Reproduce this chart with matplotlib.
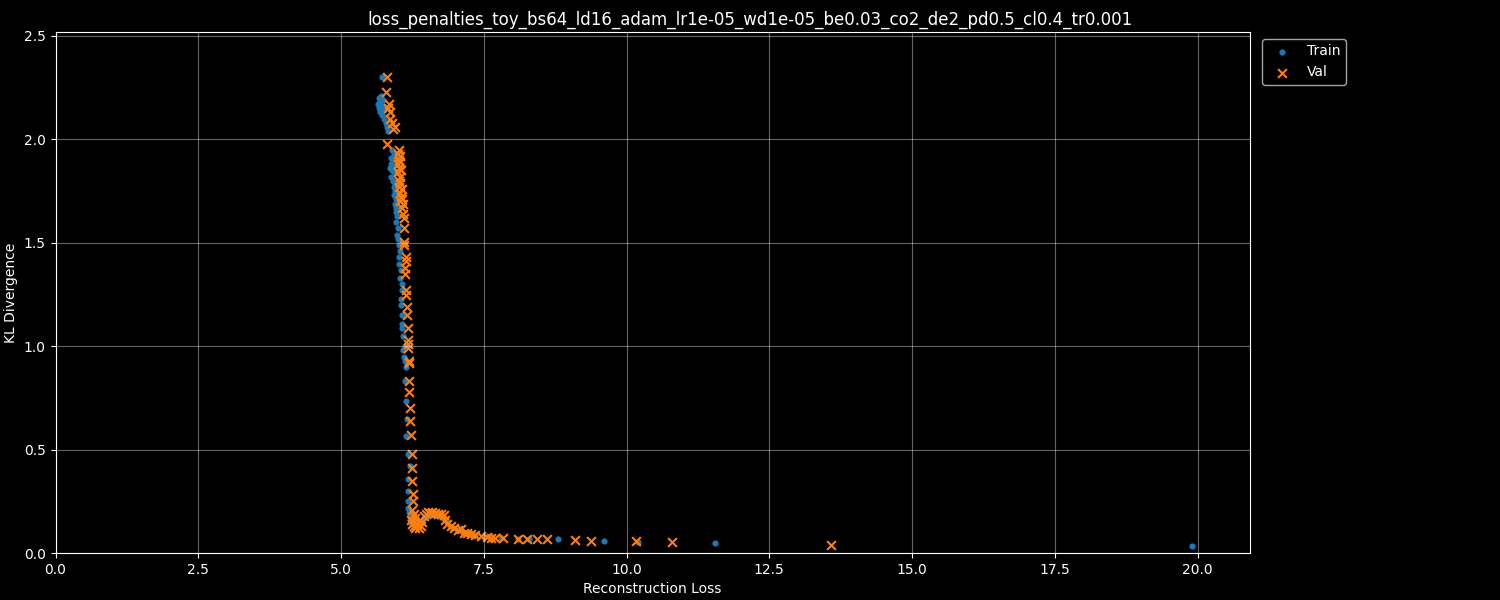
import matplotlib
matplotlib.use("Agg")
import matplotlib.pyplot as plt

plt.style.use("dark_background")

title = "loss_penalties_toy_bs64_ld16_adam_lr1e-05_wd1e-05_be0.03_co2_de2_pd0.5_cl0.4_tr0.001"

train_x = [5.71, 5.66, 5.68, 5.65, 5.70, 5.73, 5.67, 5.69, 5.72, 5.75, 5.78, 5.80, 5.83, 5.76, 5.74,
           5.90, 5.92, 5.88, 5.91, 5.87, 5.90, 5.86, 5.89, 5.93, 5.88, 5.91, 5.94, 5.92, 5.95, 5.93,
           5.96, 5.94, 5.97, 5.96, 5.98, 5.97, 5.99, 5.98, 6.00, 6.01, 6.03, 6.01, 6.01, 6.05, 6.04,
           6.06, 6.06, 6.05, 6.05, 6.06, 6.07, 6.07, 6.08, 6.08, 6.12, 6.11, 6.12, 6.13, 6.12, 6.14,
           6.16, 6.14, 6.17, 6.20, 6.18, 6.18, 6.18, 6.18, 6.19, 6.20, 6.21, 6.22,
           6.25, 6.30, 6.35, 6.40, 6.45, 6.50, 6.55, 6.60, 6.65, 6.70, 6.78, 6.85, 6.90, 6.95, 7.05,
           7.15, 7.25, 7.35, 7.50, 7.65, 7.80, 8.10, 8.30, 8.80, 9.60, 10.2, 11.55, 19.91]
train_y = [2.30, 2.20, 2.18, 2.17, 2.21, 2.19, 2.15, 2.13, 2.12, 2.10, 2.08, 2.06, 2.04, 2.14, 2.16,
           1.95, 1.93, 1.91, 1.90, 1.88, 1.87, 1.86, 1.85, 1.84, 1.82, 1.80, 1.79, 1.77, 1.75, 1.73,
           1.71, 1.69, 1.67, 1.65, 1.63, 1.60, 1.57, 1.54, 1.52, 1.49, 1.46, 1.43, 1.40, 1.37, 1.33,
           1.30, 1.27, 1.23, 1.20, 1.15, 1.11, 1.09, 1.05, 0.98, 1.00, 0.95, 0.93, 0.90, 0.83, 0.735,
           0.65, 0.565, 0.48, 0.42, 0.36, 0.30, 0.25, 0.22, 0.20, 0.18, 0.16, 0.15,
           0.14, 0.13, 0.13, 0.15, 0.17, 0.18, 0.19, 0.19, 0.19, 0.18, 0.17, 0.15, 0.13, 0.12, 0.11,
           0.10, 0.095, 0.09, 0.08, 0.075, 0.072, 0.07, 0.068, 0.068, 0.058, 0.055, 0.048, 0.037]

val_x = [5.80, 5.78, 5.84, 5.82, 5.86, 5.85, 5.89, 5.94, 5.91, 5.80,
         6.02, 6.00, 6.04, 6.01, 6.03, 5.99, 6.02, 6.05, 6.00, 6.03, 6.01, 6.04, 6.02, 6.06, 6.03,
         6.05, 6.07, 6.04, 6.08, 6.06, 6.08, 6.10,
         6.10, 6.11, 6.10, 6.13, 6.13, 6.12, 6.12, 6.14, 6.14, 6.15, 6.15, 6.17, 6.17, 6.18, 6.17,
         6.19, 6.19, 6.19, 6.19, 6.21, 6.21, 6.22, 6.24, 6.24, 6.24, 6.26, 6.26, 6.25, 6.27,
         6.22, 6.25, 6.28, 6.30, 6.33, 6.36, 6.40, 6.38, 6.30, 6.42, 6.45, 6.48, 6.52, 6.56, 6.60,
         6.65, 6.70, 6.75, 6.80, 6.82, 6.86, 6.92, 6.98, 7.05, 7.10, 7.15, 7.20, 7.28, 7.35, 7.45,
         7.55, 7.62, 7.70, 7.84, 8.10, 8.26, 8.43, 8.60, 9.10, 9.38, 10.17, 10.8, 13.58]
val_y = [2.30, 2.23, 2.17, 2.15, 2.13, 2.10, 2.08, 2.06, 2.05, 1.98,
         1.95, 1.93, 1.92, 1.90, 1.89, 1.88, 1.86, 1.85, 1.84, 1.82, 1.80, 1.79, 1.77, 1.76, 1.74,
         1.72, 1.71, 1.70, 1.69, 1.67, 1.64, 1.62,
         1.57, 1.505, 1.49, 1.43, 1.41, 1.38, 1.35, 1.27, 1.25, 1.19, 1.15, 1.09, 1.03, 1.01, 0.99,
         0.93, 0.92, 0.83, 0.78, 0.70, 0.64, 0.57, 0.48, 0.41, 0.35, 0.285, 0.25, 0.21, 0.19,
         0.16, 0.14, 0.13, 0.12, 0.14, 0.12, 0.13, 0.16, 0.17, 0.15, 0.18, 0.19, 0.20, 0.195, 0.20,
         0.195, 0.19, 0.19, 0.185, 0.16, 0.14, 0.13, 0.12, 0.11, 0.115, 0.10, 0.10, 0.095, 0.09, 0.085,
         0.08, 0.073, 0.073, 0.073, 0.068, 0.07, 0.067, 0.067, 0.062, 0.058, 0.057, 0.053, 0.038]

fig, ax = plt.subplots(figsize=(15, 6), dpi=100)
fig.subplots_adjust(left=0.037, right=0.833, top=0.947, bottom=0.078)

ax.scatter(train_x, train_y, s=12, color="#1f77b4", label="Train")
ax.scatter(val_x, val_y, s=40, marker="x", color="#ff7f0e", label="Val")

ax.set_xlim(0, 20.91)
ax.set_ylim(0, 2.52)
fig.suptitle(title, fontsize=12, y=0.982)
ax.set_xlabel("Reconstruction Loss")
ax.set_ylabel("KL Divergence")
ax.grid(True, alpha=0.4)
ax.legend(loc="upper left", bbox_to_anchor=(1.005, 1.0))

fig.savefig("out.png")
